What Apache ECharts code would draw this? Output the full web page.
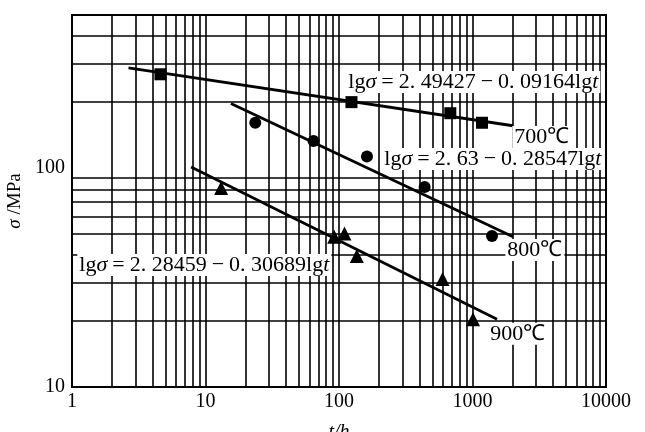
<!DOCTYPE html>
<html>
<head>
<meta charset="utf-8">
<script src="https://cdn.jsdelivr.net/npm/echarts@6/dist/echarts.min.js"></script>
<style>html,body{margin:0;padding:0;background:#fff;}#c{width:645px;height:432px;}</style>
</head>
<body>
<div id="c"></div>
<script>
// ---- data ----
const t700 = [4.6, 124, 682, 1178];
const s700 = [268, 200, 178, 161];
const t800 = [23.6, 64.5, 162, 438, 1400];
const s800 = [161, 133, 113, 82, 48.9];
const t900 = [13.1, 92, 110, 136, 597, 1009];
const s900 = [81, 48.6, 50.3, 39.7, 31.1, 20.4];
// fitted lines (end points)
const fit700T = [2.65, 2010], fit700S = [287, 156];
const fit800T = [15.5, 2010], fit800S = [197, 48.5];
const fit900T = [7.8, 1527],  fit900S = [101, 20.4];
// tick labels
const xTickLabels = [1, 10, 100, 1000, 10000];
const yTickLabels = [10, 100];
// minor grid values
const xMinor = [];
[1, 10, 100, 1000].forEach(d => { for (let m = 2; m <= 9; m++) xMinor.push(m * d); });
const yMinor = [];
[10, 100].forEach(d => { for (let m = 2; m <= 9; m++) if (m * d < 500) yMinor.push(m * d); });

const FONT = 'Liberation Serif';
const zip = (a, b) => a.map((v, i) => [v, b[i]]);

const eqRich = {
  n: { fontFamily: FONT, fontSize: 22, color: '#000' },
  i: { fontFamily: FONT, fontSize: 22, fontStyle: 'italic', color: '#000' },
  o: { fontFamily: FONT, fontSize: 22, color: '#000', padding: [0, 5] }
};
// annotation anchors (left edge / vertical centre, in data units)
const notes = [
  { at: [113.5, 247], text: '{n|lg}{i|σ}{o|=}{n|2. 49427}{o|−}{n|0. 09164lg}{i|t}' },
  { at: [1986, 138.7], text: '{n|700℃}' },
  { at: [211, 110], text: '{n|lg}{i|σ}{o|=}{n|2. 63}{o|−}{n|0. 28547lg}{i|t}' },
  { at: [1762, 42.2], text: '{n|800℃}' },
  { at: [1.096, 36.1], text: '{n|lg}{i|σ}{o|=}{n|2. 28459}{o|−}{n|0. 30689lg}{i|t}' },
  { at: [1313, 17.5], text: '{n|900℃}' }
];

const chart = echarts.init(document.getElementById('c'));
const gridLine = { color: '#000', width: 1.6, type: 'solid', opacity: 1 };
chart.setOption({
  animation: false,
  backgroundColor: '#fff',
  grid: { left: 72, right: 39, top: 15, bottom: 45, show: true, borderColor: '#000', borderWidth: 2,
          containLabel: false, outerBoundsMode: 'none' },
  xAxis: {
    type: 'log', logBase: 10, min: 1, max: 10000,
    name: 't/h', nameLocation: 'middle', nameGap: 36,
    nameTextStyle: { fontFamily: FONT, fontSize: 20, color: '#000', fontStyle: 'italic' },
    axisLine: { show: true, lineStyle: { color: '#000', width: 2 } },
    axisTick: { show: false },
    axisLabel: { fontFamily: FONT, fontSize: 20, color: '#000', margin: 5,
      formatter: v => xTickLabels.includes(Math.round(v)) ? String(Math.round(v)) : '' },
    splitLine: { show: true, lineStyle: gridLine }
  },
  yAxis: {
    type: 'log', logBase: 10, min: 10, max: 500,
    name: '{i|σ} /MPa', nameLocation: 'middle', nameGap: 40, nameRotate: 90,
    nameTextStyle: { fontFamily: FONT, fontSize: 19, color: '#000',
      rich: { i: { fontFamily: FONT, fontSize: 19, fontStyle: 'italic', color: '#000' } } },
    axisLine: { show: true, lineStyle: { color: '#000', width: 2 } },
    axisTick: { show: false },
    axisLabel: { fontFamily: FONT, fontSize: 20, color: '#000', margin: 7,
      formatter: v => yTickLabels.includes(Math.round(v)) ? String(Math.round(v)) : '' },
    splitLine: { show: false }
  },
  series: [
    {
      type: 'line', data: [], z: 1, silent: true,
      markLine: {
        silent: true, symbol: 'none', label: { show: false }, animation: false,
        lineStyle: gridLine, emphasis: { disabled: true },
        data: xMinor.map(v => ({ xAxis: v })).concat(yMinor.map(v => ({ yAxis: v })))
      }
    },
    { type: 'line', data: zip(fit700T, fit700S), symbol: 'none', z: 3, lineStyle: { color: '#000', width: 2.8, opacity: 1 } },
    { type: 'line', data: zip(fit800T, fit800S), symbol: 'none', z: 3, lineStyle: { color: '#000', width: 2.8, opacity: 1 } },
    { type: 'line', data: zip(fit900T, fit900S), symbol: 'none', z: 3, lineStyle: { color: '#000', width: 2.8, opacity: 1 } },
    { type: 'scatter', data: zip(t700, s700), symbol: 'rect', symbolSize: 12, z: 4, itemStyle: { color: '#000', opacity: 1 } },
    { type: 'scatter', data: zip(t800, s800), symbol: 'circle', symbolSize: 12, z: 4, itemStyle: { color: '#000', opacity: 1 } },
    { type: 'scatter', data: zip(t900, s900), symbol: 'triangle', symbolSize: 14, z: 4, itemStyle: { color: '#000', opacity: 1 } },
    {
      type: 'scatter', z: 6, symbolSize: 0, silent: true, itemStyle: { opacity: 1 },
      data: notes.map(n => ({ value: n.at, label: { formatter: n.text } })),
      label: { show: true, position: 'right', distance: 0, backgroundColor: '#ffffff', opacity: 1, padding: [0, 2], rich: eqRich }
    }
  ]
});
</script>
</body>
</html>
